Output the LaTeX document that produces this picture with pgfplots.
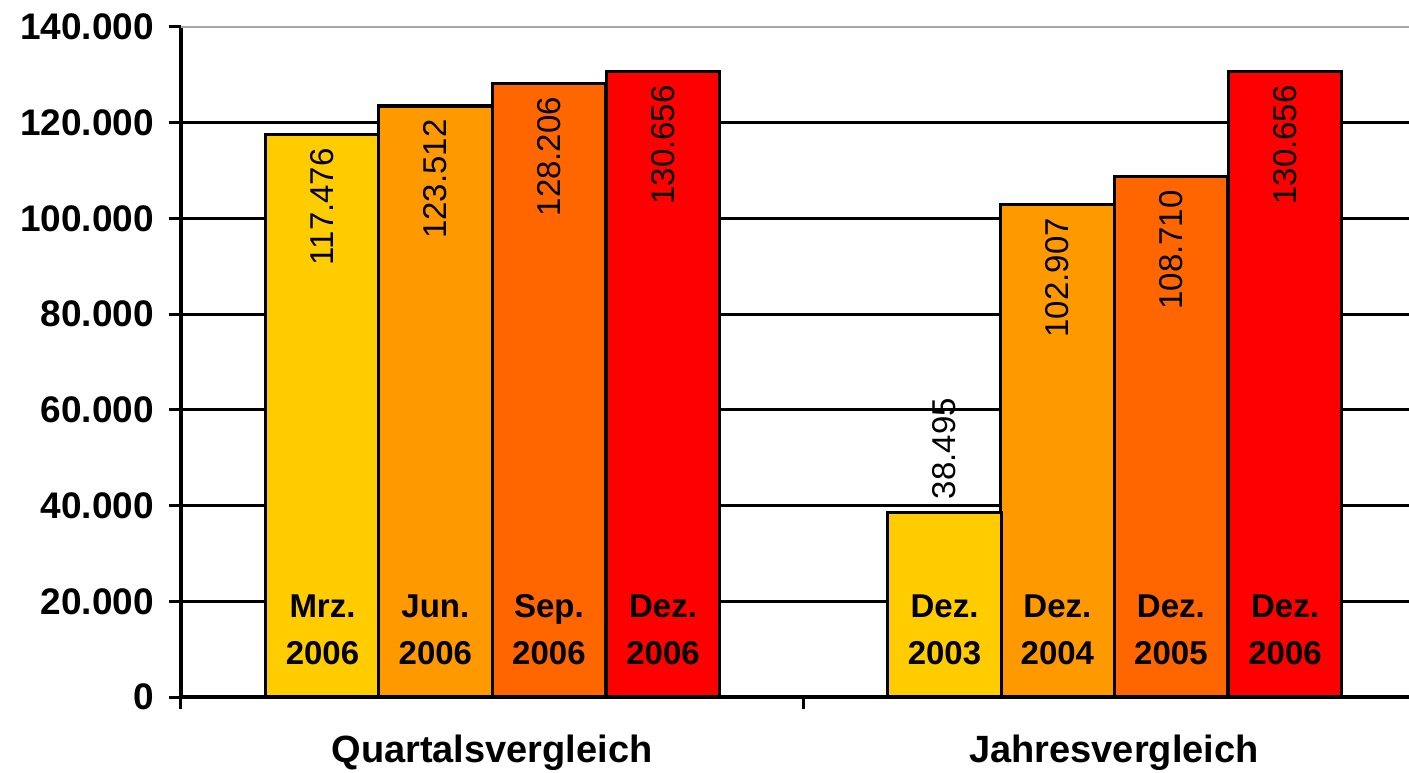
\documentclass[border=0pt]{standalone}
\usepackage{pgfplots}
\pgfplotsset{compat=1.18}
\usepackage{fontspec}
\setmainfont{Liberation Sans}
\definecolor{cA}{HTML}{FFCC00}
\definecolor{cB}{HTML}{FF9900}
\definecolor{cC}{HTML}{FF6600}
\definecolor{cD}{HTML}{FF0000}
\begin{document}
\begin{tikzpicture}
\useasboundingbox (-90.5pt,-37.5pt) rectangle (614pt,348.5pt);
\clip (-90.5pt,-37.5pt) rectangle (614pt,348.5pt);
\begin{axis}[
  at={(0,0)}, anchor=south west,
  scale only axis, width=622pt, height=335pt,
  xmin=0, xmax=2, ymin=0, ymax=140000,
  axis lines=left, axis line style={line width=1.6pt, -},
  xtick={0,1,2}, xticklabels={}, 
  ytick={0,20000,...,120000},
  extra y ticks={140000},
  extra y tick style={grid style={gray!70, line width=1pt}},
  ymajorgrids, grid style={black, line width=1.5pt},
  tick align=outside, major tick length=6pt,
  tick style={black, line width=1.5pt},
  scaled y ticks=false,
  /pgf/number format/.cd, fixed, precision=0, 1000 sep={.}, assume math mode=true,
  /pgfplots/.cd,
  yticklabel style={font=\fontsize{18.5}{20}\selectfont\bfseries, xshift=-4pt},
  ybar, bar width=0.1825, bar shift=0pt,
  every axis plot/.append style={draw=black, line width=1.6pt},
  nodes near coords,
  every node near coord/.append style={font=\fontsize{16.5}{18}\selectfont, rotate=90, anchor=east, inner sep=6pt, black},
  clip=false,
]
\addplot[fill=cA] coordinates {(0.2275,117476)};
\addplot[fill=cB] coordinates {(0.409,123512) (1.409,102907)};
\addplot[fill=cC] coordinates {(0.5915,128206) (1.5915,108710)};
\addplot[fill=cD] coordinates {(0.775,130656) (1.775,130656)};
\addplot[fill=cA, every node near coord/.append style={anchor=west}] coordinates {(1.2275,38495)};

\begin{scope}[every node/.style={font=\fontsize{16.5}{23.5}\selectfont\bfseries, align=center, anchor=south, inner sep=0pt, yshift=16pt}]
\node at (axis cs:0.2275,0) {Mrz.\\2006};
\node at (axis cs:0.409,0) {Jun.\\2006};
\node at (axis cs:0.5915,0) {Sep.\\2006};
\node at (axis cs:0.775,0) {Dez.\\2006};
\node at (axis cs:1.2275,0) {Dez.\\2003};
\node at (axis cs:1.409,0) {Dez.\\2004};
\node at (axis cs:1.5915,0) {Dez.\\2005};
\node at (axis cs:1.775,0) {Dez.\\2006};
\end{scope}
\node[font=\fontsize{19}{21}\selectfont\bfseries, anchor=base, yshift=-32.5pt] at (axis cs:0.5,0) {Quartalsvergleich};
\node[font=\fontsize{19}{21}\selectfont\bfseries, anchor=base, yshift=-32.5pt] at (axis cs:1.5,0) {Jahresvergleich};
\end{axis}
\end{tikzpicture}
\end{document}
